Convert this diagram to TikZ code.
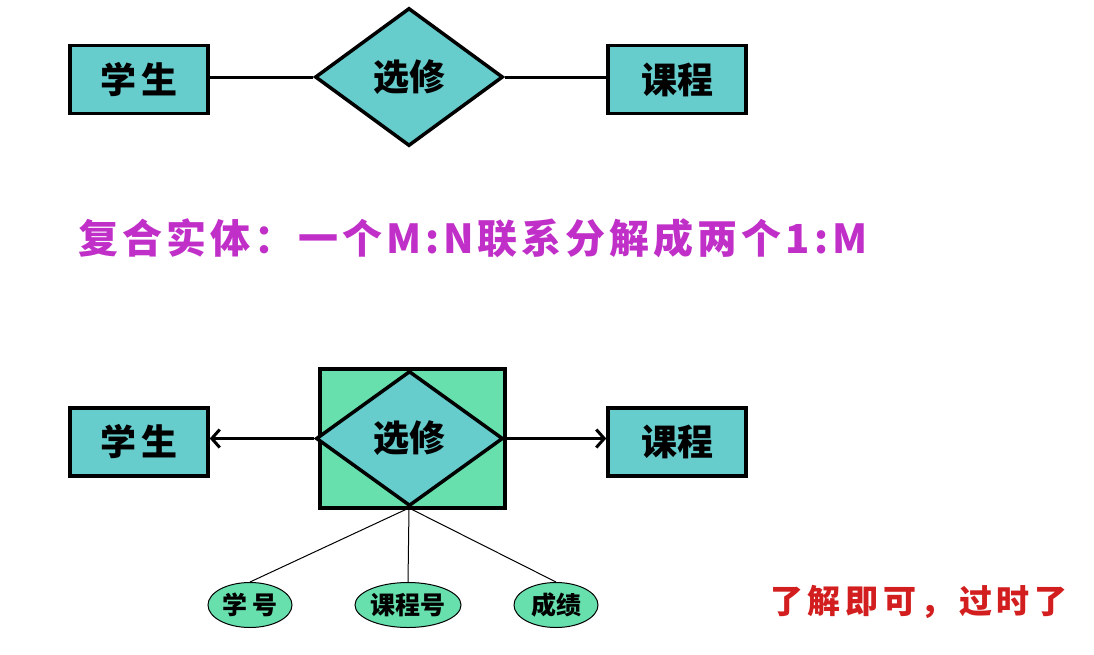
\documentclass[tikz,border=0pt]{standalone}
\usepackage{fontspec}
\newfontfamily\cjk{Noto Sans CJK SC}[BoldFont={Noto Sans CJK SC Black}]
\newfontfamily\cjksp{Noto Sans CJK SC}[BoldFont={Noto Sans CJK SC Black},LetterSpace=10]
\newfontfamily\cjkspb{Noto Sans CJK SC}[BoldFont={Noto Sans CJK SC Black},LetterSpace=14]
\usetikzlibrary{shapes.geometric,arrows.meta}
\definecolor{ent}{RGB}{102,204,204}
\definecolor{agg}{RGB}{104,224,174}
\definecolor{ttl}{RGB}{192,48,200}
\definecolor{note}{RGB}{210,30,30}
\begin{document}
\begin{tikzpicture}[x=1pt,y=-1pt,
  entity/.style={draw=black,line width=3.5pt,fill=ent,minimum width=138pt,minimum height=68pt,inner sep=0pt,font=\cjk\bfseries\fontsize{36}{38}\selectfont},
  relation/.style={draw=black,line width=3.5pt,fill=ent,diamond,aspect=1.37,inner sep=0pt,minimum width=188pt,minimum height=138pt,font=\cjk\bfseries\fontsize{36}{38}\selectfont},
  attr/.style={draw=black,line width=1pt,fill=agg,ellipse,inner sep=0pt,minimum height=45pt,font=\cjk\bfseries\fontsize{25}{27}\selectfont},
  link/.style={line width=3pt},
  thin/.style={line width=1pt},
  arr/.style={line width=3pt,-{Straight Barb[length=8pt,width=18pt,line width=3pt]}}]
\useasboundingbox (0,0) rectangle (1094,654);
% top diagram
\node[entity] (s1) at (139,79.5) {学\,生};
\node[relation] (r1) at (409,77) {选修};
\node[entity] (c1) at (677,79.5) {课程};
\draw[link] (r1.west) -- (r1.west -| s1.east);
\draw[link] (r1.east) -- (r1.east -| c1.west);
% title
\node[font=\cjksp\bfseries\fontsize{40}{44}\selectfont,text=ttl,anchor=west,inner sep=0pt] (t) at (78,238) {复合实体：一个M:N联系分解成两个1:M};
% bottom diagram
\node[draw=black,line width=3.5pt,fill=agg,minimum width=185pt,minimum height=139pt,inner sep=0pt] (box) at (412.5,438.5) {};
\node[relation,minimum width=187pt,minimum height=135pt] (r2) at (409.5,438.5) {选修};
\node[entity] (s2) at (139,442) {学\,生};
\node[entity] (c2) at (677,442) {课程};
\draw[arr] (r2.west) -- (r2.west -| s2.east);
\draw[arr] (r2.east) -- (r2.east -| c2.west);
\node[attr,minimum width=84pt] (a1) at (250,605) {学\,号};
\node[attr,minimum width=102pt] (a2) at (408,605) {课程号};
\node[attr,minimum width=84pt] (a3) at (556,605) {成绩};
\coordinate (hub) at (409,508);
\draw[thin] (hub) -- (a1.north);
\draw[thin] (hub) -- (a2.north);
\draw[thin] (hub) -- (a3.north);
% note
\node[font=\cjkspb\bfseries\fontsize{33}{35}\selectfont,text=note,anchor=west,inner sep=0pt] (n) at (770,602) {了解即可，\,过时了};
\end{tikzpicture}
\end{document}
